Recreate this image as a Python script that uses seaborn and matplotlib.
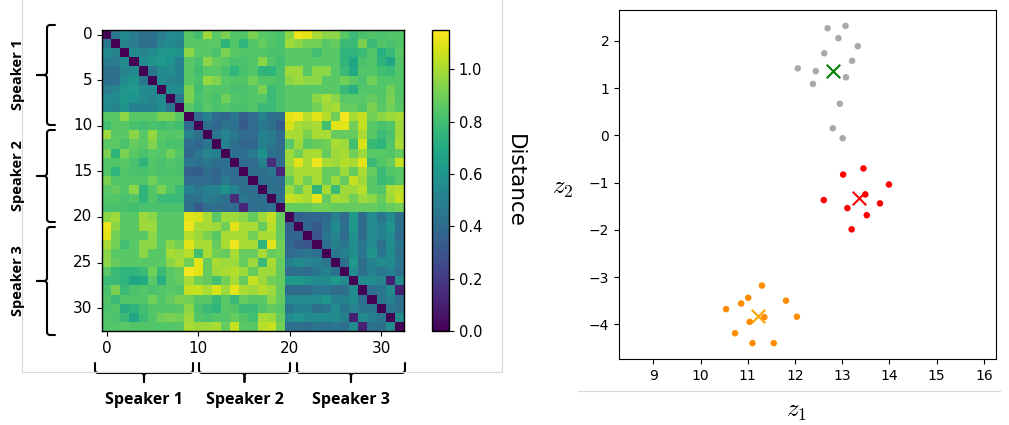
import numpy as np
import pandas as pd
import matplotlib
matplotlib.use('Agg')
import matplotlib.pyplot as plt
import seaborn as sns
from matplotlib.path import Path
from matplotlib.patches import PathPatch
from matplotlib.ticker import MultipleLocator

plt.rcParams['mathtext.fontset'] = 'cm'

# distance matrix, lower triangle (row i, columns 0..i-1), mirrored below
dist_lower = [
    [],
    [0.45],
    [0.55, 0.52],
    [0.48, 0.48, 0.55],
    [0.42, 0.42, 0.52, 0.55],
    [0.42, 0.42, 0.55, 0.60, 0.45],
    [0.48, 0.52, 0.60, 0.62, 0.55, 0.55],
    [0.55, 0.55, 0.62, 0.58, 0.55, 0.52, 0.55],
    [0.55, 0.52, 0.58, 0.50, 0.50, 0.50, 0.55, 0.45],
    [0.85, 0.85, 0.95, 0.85, 0.85, 0.85, 0.92, 0.92, 0.85],
    [0.80, 0.85, 0.85, 0.82, 0.80, 0.82, 0.80, 0.82, 0.80, 0.40],
    [0.98, 0.85, 0.85, 0.95, 0.85, 0.97, 0.85, 0.84, 0.85, 0.50, 0.42],
    [0.85, 0.86, 0.82, 0.88, 0.85, 0.93, 0.84, 0.82, 0.82, 0.40, 0.38, 0.45],
    [0.92, 0.75, 0.92, 0.85, 0.82, 0.85, 0.84, 0.90, 0.84, 0.38, 0.45, 0.52, 0.50],
    [0.84, 0.84, 0.85, 0.82, 0.75, 0.84, 0.82, 0.84, 0.82, 0.45, 0.42, 0.45, 0.42, 0.42],
    [0.84, 0.75, 0.84, 0.82, 0.82, 0.84, 0.82, 0.83, 0.82, 0.35, 0.33, 0.40, 0.37, 0.43, 0.40],
    [0.92, 0.84, 0.84, 0.84, 0.84, 0.90, 0.84, 0.84, 0.84, 0.40, 0.40, 0.40, 0.38, 0.47, 0.40, 0.42],
    [0.85, 0.88, 0.84, 0.95, 0.75, 0.84, 0.92, 0.84, 0.78, 0.50, 0.45, 0.50, 0.50, 0.58, 0.50, 0.42, 0.42],
    [0.84, 0.84, 0.82, 0.84, 0.75, 0.84, 0.78, 0.78, 0.78, 0.42, 0.42, 0.48, 0.46, 0.42, 0.15, 0.45, 0.42, 0.42],
    [0.82, 0.82, 0.82, 0.80, 0.82, 0.82, 0.82, 0.82, 0.82, 0.42, 0.32, 0.40, 0.40, 0.40, 0.40, 0.12, 0.40, 0.42, 0.42],
    [0.95, 0.98, 0.85, 0.85, 0.98, 0.95, 0.85, 0.85, 0.85, 1.10, 1.08, 1.00, 0.85, 0.98, 0.98, 0.95, 0.88, 0.98, 1.05, 0.88],
    [1.12, 0.95, 0.85, 0.85, 0.98, 0.98, 0.85, 0.85, 0.85, 1.12, 1.00, 1.00, 0.98, 0.90, 1.10, 1.00, 1.00, 0.88, 1.02, 0.88,
     0.35],
    [1.10, 0.90, 0.85, 0.85, 0.85, 0.95, 0.85, 0.85, 0.85, 1.02, 0.98, 0.92, 0.85, 1.00, 1.00, 1.00, 0.90, 1.00, 1.00, 0.88,
     0.38, 0.38],
    [1.00, 0.90, 0.80, 0.85, 0.95, 0.95, 0.85, 0.95, 0.90, 1.10, 1.00, 1.00, 0.88, 1.00, 1.12, 1.00, 1.00, 0.75, 1.10, 0.90,
     0.38, 0.32, 0.30],
    [0.95, 0.85, 0.85, 0.85, 0.95, 0.85, 0.85, 1.00, 0.98, 1.02, 0.80, 1.00, 0.90, 0.88, 1.00, 0.88, 0.88, 1.00, 0.88, 0.90,
     0.40, 0.42, 0.45, 0.42],
    [0.95, 0.88, 0.85, 0.85, 0.85, 0.85, 0.85, 0.95, 1.00, 0.90, 1.10, 0.88, 1.00, 0.98, 0.98, 0.88, 0.98, 0.78, 1.00, 0.88,
     0.50, 0.55, 0.52, 0.50, 0.45],
    [0.85, 0.78, 0.75, 0.75, 0.78, 0.90, 0.78, 0.85, 0.88, 1.13, 1.10, 0.88, 0.98, 1.00, 1.02, 0.98, 0.88, 0.98, 0.98, 0.88,
     0.40, 0.42, 0.40, 0.45, 0.50, 0.42],
    [0.78, 0.78, 0.75, 0.68, 0.70, 0.85, 0.72, 0.85, 0.88, 1.00, 0.90, 0.88, 0.80, 0.90, 1.00, 0.88, 1.05, 0.98, 0.90, 0.88,
     0.62, 0.62, 0.58, 0.55, 0.55, 0.62, 0.55],
    [0.82, 0.92, 0.78, 0.82, 0.84, 0.82, 0.84, 0.85, 0.84, 1.05, 1.05, 1.00, 1.08, 0.98, 1.10, 1.00, 0.98, 1.02, 0.98, 0.88,
     0.40, 0.40, 0.40, 0.45, 0.45, 0.40, 0.42, 0.55],
    [0.84, 0.78, 0.84, 0.84, 0.84, 0.90, 0.84, 0.88, 0.92, 0.90, 0.85, 0.85, 0.78, 0.85, 0.78, 0.88, 0.85, 0.85, 0.95, 0.88,
     0.55, 0.55, 0.55, 0.55, 0.60, 0.50, 0.50, 0.55, 0.42],
    [0.82, 0.84, 0.72, 0.75, 0.80, 0.84, 0.84, 0.84, 0.85, 0.95, 0.82, 0.78, 0.75, 0.85, 0.84, 0.78, 0.78, 0.84, 0.88, 0.85,
     0.45, 0.50, 0.50, 0.42, 0.45, 0.55, 0.45, 0.52, 0.45, 0.45],
    [0.84, 0.82, 0.78, 0.68, 0.78, 0.84, 0.90, 0.92, 0.90, 0.98, 0.84, 0.82, 0.84, 0.84, 0.88, 0.84, 0.80, 1.00, 0.98, 0.88,
     0.55, 0.60, 0.55, 0.55, 0.55, 0.55, 0.50, 0.10, 0.55, 0.50, 0.45],
    [0.84, 0.84, 0.85, 0.84, 0.84, 0.84, 0.84, 0.84, 0.85, 1.00, 0.98, 0.98, 1.00, 0.88, 1.05, 0.85, 0.85, 1.02, 1.05, 0.90,
     0.42, 0.42, 0.40, 0.45, 0.42, 0.45, 0.42, 0.55, 0.10, 0.42, 0.42, 0.55],
]

ytick_vals = [0, 5, 10, 15, 20, 25, 30]
xtick_vals = [0, 10, 20, 30]
cbar_ticks = [0.0, 0.2, 0.4, 0.6, 0.8, 1.0]
speakers = ['Speaker 1', 'Speaker 2', 'Speaker 3']

# latent embeddings z1/z2 per speaker
spk1_z1 = [13.45, 13.02, 13.99, 12.61, 13.49, 13.80, 13.11, 13.52, 13.20]
spk1_z2 = [-0.70, -0.83, -1.04, -1.37, -1.25, -1.44, -1.54, -1.69, -1.99]
spk2_z1 = [11.30, 11.01, 10.86, 11.81, 10.54, 11.35, 12.04, 11.04, 10.73, 11.10, 11.55]
spk2_z2 = [-3.18, -3.44, -3.56, -3.50, -3.68, -3.85, -3.84, -3.95, -4.19, -4.40, -4.40]
spk3_z1 = [12.69, 13.07, 12.92, 13.33, 12.62, 13.21, 12.06, 12.44, 13.08, 12.38, 12.95, 12.80, 13.01]
spk3_z2 = [2.27, 2.32, 2.06, 1.89, 1.74, 1.58, 1.42, 1.36, 1.23, 1.09, 0.67, 0.15, -0.06]

point_colors = {'Speaker 1': 'red', 'Speaker 2': 'darkorange', 'Speaker 3': 'darkgray'}
centre_colors = {'Speaker 1': 'red', 'Speaker 2': 'orange', 'Speaker 3': 'green'}

n = len(dist_lower)
D = np.zeros((n, n))
for i, row in enumerate(dist_lower):
    D[i, :i] = row
D = D + D.T

df = pd.DataFrame({
    'z1': spk1_z1 + spk2_z1 + spk3_z1,
    'z2': spk1_z2 + spk2_z2 + spk3_z2,
    'speaker': ['Speaker 1'] * len(spk1_z1) + ['Speaker 2'] * len(spk2_z1) + ['Speaker 3'] * len(spk3_z1),
})

W, H = 1009, 425
fig = plt.figure(figsize=(W / 100, H / 100), dpi=100)


def px_box(x0, y0, x1, y1):
    return [x0 / W, 1 - y1 / H, (x1 - x0) / W, (y1 - y0) / H]


ax = fig.add_axes(px_box(102, 30, 404, 331))
cax = fig.add_axes(px_box(432, 30, 449, 331))
sns.heatmap(D, ax=ax, cbar_ax=cax, cmap='viridis', vmin=0, vmax=1.15,
            cbar_kws={'ticks': cbar_ticks})
for s in ax.spines.values():
    s.set_visible(True)
    s.set_linewidth(1)
ax.set_xticks(np.array(xtick_vals) + 0.5, [str(v) for v in xtick_vals], rotation=0)
ax.set_yticks(np.array(ytick_vals) + 0.5, [str(v) for v in ytick_vals], rotation=0)
ax.tick_params(labelsize=11, length=3.5, width=0.8)

cb = ax.collections[0].colorbar
cb.outline.set_visible(True)
cb.outline.set_linewidth(1)
cax.tick_params(labelsize=10.5, length=3.5, width=0.8)
cax.set_yticklabels([f'{t:.1f}' for t in cbar_ticks])
cb.set_label('Distance', rotation=270, fontsize=15.5, labelpad=31)

# scatter of embeddings
ax2 = fig.add_axes(px_box(619, 10, 996, 359))
sns.scatterplot(data=df, x='z1', y='z2', hue='speaker', palette=point_colors,
                s=22, edgecolor='none', legend=False, ax=ax2)
centres = df.groupby('speaker')[['z1', 'z2']].mean()
for spk in speakers:
    ax2.scatter(centres.loc[spk, 'z1'], centres.loc[spk, 'z2'], marker='x',
                s=95, color=centre_colors[spk], linewidths=1.5, zorder=5)
ax2.set_aspect('equal', adjustable='datalim')
ax2.xaxis.set_major_locator(MultipleLocator(1))
ax2.yaxis.set_major_locator(MultipleLocator(1))
ax2.set_xlabel('$z_1$', fontsize=18)
ax2.set_ylabel('$z_2$', fontsize=18, rotation=0)
ax2.xaxis.set_label_coords(0.472, -0.115)
ax2.yaxis.set_label_coords(-0.15, 0.455)
ax2.tick_params(labelsize=10)

# overlay in pixel coordinates for braces and frame lines
ov = fig.add_axes([0, 0, 1, 1])
ov.set_xlim(0, W)
ov.set_ylim(H, 0)
ov.axis('off')
ov.patch.set_alpha(0)

line_col = '#d9d9d9'
ov.plot([22, 22], [0, 372], color=line_col, lw=0.8)
ov.plot([22, 502], [372, 372], color=line_col, lw=0.8)
ov.plot([502, 502], [0, 372], color=line_col, lw=0.8)
ov.plot([578, 1000], [391, 391], color=line_col, lw=0.8)


def brace(a0, a1, c_arm, c_bar, c_tip, vertical=False, r=3.0):
    am = (a0 + a1) / 2
    d = 1 if c_bar > c_arm else -1
    for a_end, s in ((a0, 1), (a1, -1)):
        pts = [(a_end, c_arm), (a_end, c_bar - d * r), (a_end, c_bar), (a_end + s * r, c_bar),
               (am - s * r, c_bar), (am, c_bar), (am, c_bar + d * r), (am, c_tip)]
        if vertical:
            pts = [(c, a) for a, c in pts]
        codes = [Path.MOVETO, Path.LINETO, Path.CURVE3, Path.CURVE3,
                 Path.LINETO, Path.CURVE3, Path.CURVE3, Path.LINETO]
        ov.add_patch(PathPatch(Path(pts, codes), fill=False, lw=1.5, color='black',
                               capstyle='round', joinstyle='round'))


bottom_spans = [(95, 193), (199, 290), (297, 405)]
for (a0, a1), name in zip(bottom_spans, speakers):
    brace(a0, a1, 363, 373, 382)
    ov.text((a0 + a1) / 2, 400, name, ha='center', va='center', fontsize=11.5,
            fontweight='bold', family=['Open Sans', 'DejaVu Sans'])

left_spans = [(25, 125), (130, 222), (227, 335)]
for (a0, a1), name in zip(left_spans, speakers):
    brace(a0, a1, 55, 47, 37, vertical=True)
    ov.text(18, (a0 + a1) / 2, name, ha='center', va='center', rotation=90, fontsize=10.5,
            fontweight='bold', family=['Open Sans', 'DejaVu Sans'])

fig.savefig('out.png', dpi=100)
